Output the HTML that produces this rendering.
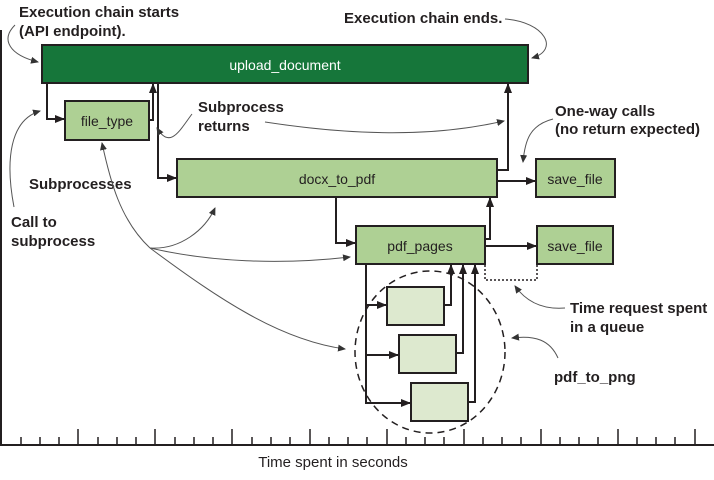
<!DOCTYPE html>
<html><head><meta charset="utf-8"><style>
html,body{margin:0;padding:0;background:#fff;}
svg{display:block;}
.b{font-family:"Liberation Sans",sans-serif;font-weight:bold;font-size:15px;fill:#231f20;}
.n{font-family:"Liberation Sans",sans-serif;font-size:14px;fill:#231f20;}
</style></head><body>
<svg width="714" height="480" viewBox="0 0 714 480" xmlns="http://www.w3.org/2000/svg">
<defs>
<marker id="a" markerWidth="10" markerHeight="8" refX="9" refY="4" orient="auto" markerUnits="userSpaceOnUse"><path d="M0,0 L10,4 L0,8 z" fill="#231f20"/></marker>
<marker id="g" markerWidth="8" markerHeight="7" refX="7" refY="3.5" orient="auto" markerUnits="userSpaceOnUse"><path d="M0,0 L8,3.5 L0,7 z" fill="#333"/></marker>
</defs>
<g stroke="#231f20" stroke-width="2" fill="none">
<line x1="1" y1="30" x2="1" y2="446"/>
<line x1="0" y1="445" x2="714" y2="445"/>
</g>
<g stroke="#231f20" stroke-width="1.5">
<line x1="21" y1="445" x2="21" y2="437"/><line x1="40" y1="445" x2="40" y2="437"/><line x1="59" y1="445" x2="59" y2="437"/><line x1="78" y1="445" x2="78" y2="429"/>
<line x1="98" y1="445" x2="98" y2="437"/><line x1="117" y1="445" x2="117" y2="437"/><line x1="136" y1="445" x2="136" y2="437"/><line x1="155" y1="445" x2="155" y2="429"/>
<line x1="175" y1="445" x2="175" y2="437"/><line x1="194" y1="445" x2="194" y2="437"/><line x1="213" y1="445" x2="213" y2="437"/><line x1="232" y1="445" x2="232" y2="429"/>
<line x1="252" y1="445" x2="252" y2="437"/><line x1="271" y1="445" x2="271" y2="437"/><line x1="290" y1="445" x2="290" y2="437"/><line x1="310" y1="445" x2="310" y2="429"/>
<line x1="329" y1="445" x2="329" y2="437"/><line x1="348" y1="445" x2="348" y2="437"/><line x1="367" y1="445" x2="367" y2="437"/><line x1="387" y1="445" x2="387" y2="429"/>
<line x1="406" y1="445" x2="406" y2="437"/><line x1="425" y1="445" x2="425" y2="437"/><line x1="444" y1="445" x2="444" y2="437"/><line x1="464" y1="445" x2="464" y2="429"/>
<line x1="483" y1="445" x2="483" y2="437"/><line x1="502" y1="445" x2="502" y2="437"/><line x1="521" y1="445" x2="521" y2="437"/><line x1="541" y1="445" x2="541" y2="429"/>
<line x1="560" y1="445" x2="560" y2="437"/><line x1="579" y1="445" x2="579" y2="437"/><line x1="598" y1="445" x2="598" y2="437"/><line x1="618" y1="445" x2="618" y2="429"/>
<line x1="637" y1="445" x2="637" y2="437"/><line x1="656" y1="445" x2="656" y2="437"/><line x1="675" y1="445" x2="675" y2="437"/><line x1="695" y1="445" x2="695" y2="429"/>
</g>
<text x="333" y="467" class="n" font-size="15" style="font-size:15px" text-anchor="middle">Time spent in seconds</text>

<g stroke="#231f20" stroke-width="2">
<rect x="42" y="45" width="486" height="38" fill="#16763a"/>
<rect x="65" y="101" width="84" height="39" fill="#aed094"/>
<rect x="177" y="159" width="320" height="38" fill="#aed094"/>
<rect x="536" y="159" width="79" height="38" fill="#aed094"/>
<rect x="356" y="226" width="129" height="38" fill="#aed094"/>
<rect x="537" y="226" width="76" height="38" fill="#aed094"/>
<rect x="387" y="287" width="57" height="38" fill="#dde9cf"/>
<rect x="399" y="335" width="57" height="38" fill="#dde9cf"/>
<rect x="411" y="383" width="57" height="38" fill="#dde9cf"/>
</g>
<text x="285" y="70" class="n" style="fill:#fff" text-anchor="middle">upload_document</text>
<text x="107" y="126" class="n" text-anchor="middle">file_type</text>
<text x="337" y="184" class="n" text-anchor="middle">docx_to_pdf</text>
<text x="575" y="184" class="n" text-anchor="middle">save_file</text>
<text x="420" y="251" class="n" text-anchor="middle">pdf_pages</text>
<text x="575" y="251" class="n" text-anchor="middle">save_file</text>

<g stroke="#231f20" stroke-width="2" fill="none">
<path d="M47,83 V119 H64" marker-end="url(#a)"/>
<path d="M149,120 H153 V84" marker-end="url(#a)"/>
<path d="M158,83 V178 H176" marker-end="url(#a)"/>
<path d="M497,170 H508 V84" marker-end="url(#a)"/>
<path d="M497,181 H535" marker-end="url(#a)"/>
<path d="M336,197 V243 H355" marker-end="url(#a)"/>
<path d="M485,239 H490 V198" marker-end="url(#a)"/>
<path d="M485,246 H536" marker-end="url(#a)"/>
<path d="M366,264 V403 H410" marker-end="url(#a)"/>
<path d="M366,305 H386" marker-end="url(#a)"/>
<path d="M366,355 H398" marker-end="url(#a)"/>
<path d="M444,305 H451 V265" marker-end="url(#a)"/>
<path d="M456,353 H463 V265" marker-end="url(#a)"/>
<path d="M468,402 H475 V265" marker-end="url(#a)"/>
</g>
<path d="M485,265 V280 H537 V265" stroke="#231f20" stroke-width="1.5" stroke-dasharray="2,2" fill="none"/>
<ellipse cx="430" cy="352" rx="75" ry="81" stroke="#231f20" stroke-width="1.5" stroke-dasharray="7,5" fill="none"/>

<text x="19" y="17" class="b">Execution chain starts</text>
<text x="19" y="36" class="b">(API endpoint).</text>
<text x="344" y="23" class="b">Execution chain ends.</text>
<text x="198" y="112" class="b">Subprocess</text>
<text x="198" y="131" class="b">returns</text>
<text x="555" y="116" class="b">One-way calls</text>
<text x="555" y="134" class="b">(no return expected)</text>
<text x="29" y="189" class="b">Subprocesses</text>
<text x="11" y="227" class="b">Call to</text>
<text x="11" y="246" class="b">subprocess</text>
<text x="570" y="313" class="b">Time request spent</text>
<text x="570" y="332" class="b">in a queue</text>
<text x="554" y="382" class="b">pdf_to_png</text>

<g stroke="#555" stroke-width="1" fill="none">
<path d="M15,25 C0,40 10,55 38,62" marker-end="url(#g)"/>
<path d="M505,19 C545,22 560,50 532,58" marker-end="url(#g)"/>
<path d="M192,114 C180,130 170,150 157,128" marker-end="url(#g)"/>
<path d="M265,122 C350,135 430,138 504,121" marker-end="url(#g)"/>
<path d="M553,119 C530,125 525,140 523,162" marker-end="url(#g)"/>
<path d="M14,207 C5,160 10,120 40,111" marker-end="url(#g)"/>
<path d="M150,248 C120,220 110,180 102,143" marker-end="url(#g)"/>
<path d="M150,248 C180,250 205,230 215,208" marker-end="url(#g)"/>
<path d="M150,248 C210,262 280,265 350,257" marker-end="url(#g)"/>
<path d="M150,248 C220,300 280,340 345,349" marker-end="url(#g)"/>
<path d="M565,308 C540,310 525,300 515,286" marker-end="url(#g)"/>
<path d="M558,358 C550,340 535,335 512,338" marker-end="url(#g)"/>
</g>
</svg>
</body></html>
